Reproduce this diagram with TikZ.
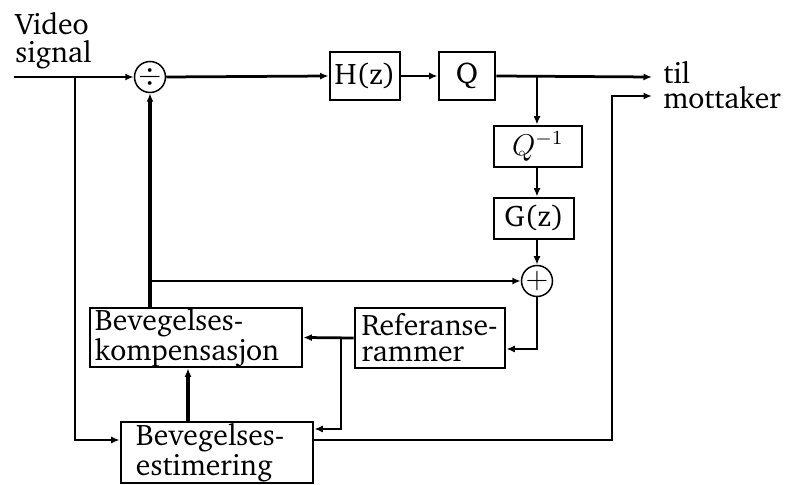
\documentclass[tikz,border=0pt]{standalone}
\usepackage[T1]{fontenc}
\usepackage{charter}
\usepackage{amsmath}
\usetikzlibrary{positioning,arrows.meta}

\begin{document}
\begin{tikzpicture}[x=0.4pt, y=-0.4pt, line width=1.1pt,
    >={Latex[length=3.4pt,width=2.8pt]},
    font=\fontsize{11.9}{9.2}\selectfont,
    blk/.style = {draw, rectangle, inner sep=0pt, align=center},
    txtblk/.style = {draw, rectangle, inner ysep=0pt, align=left},
    sum/.style = {draw, circle, line width=0.6pt, minimum size=12.4pt, inner sep=0pt},
    lbl/.style = {inner sep=0pt, align=left, anchor=north west},
    bus/.style = {line width=1.7pt}]
  \useasboundingbox (0,0) rectangle (788,485);

  % blocks
  \node[blk, minimum width=28pt, minimum height=19.2pt] (H) at (365,76) {H(z)};
  \node[blk, minimum width=22.4pt, minimum height=19.2pt] (Q) at (467,76) {Q};
  \node[blk, minimum width=35.2pt, minimum height=16.4pt] (Qinv) at (538,146.5) {$Q^{-1}$};
  \node[blk, minimum width=32pt, minimum height=16.4pt] (G) at (534,218.5) {G(z)};
  \node[txtblk, text width=80.8pt, inner xsep=2pt, minimum height=23.6pt] (komp) at (196,337.5)
    {Bevegelses-\\kompensasjon};
  \node[txtblk, text width=54.8pt, inner xsep=2.6pt, minimum height=24pt] (ref) at (430,338)
    {Referanse-\\[1.2pt]rammer};
  \node[txtblk, text width=64.8pt, inner xsep=6pt, minimum height=24.4pt] (est) at (217,452.5)
    {Bevegelses-\\estimering};
  \node[sum] (div) at (150,77) {$\div$};
  \node[sum] (plus) at (537,281) {$+$};

  % labels
  \node[lbl, font=\fontsize{11.9}{11.2}\selectfont] (video) at (14,11) {Video\\signal};
  \node[lbl, font=\fontsize{11.9}{8.6}\selectfont] (out) at (662,60) {til\\mottaker};

  \coordinate (in) at (14,77);
  \coordinate (split) at (75,77);
  \coordinate (qsplit) at (537,77);
  \coordinate (til) at (652,77);
  \coordinate (mot) at (652,96);
  \coordinate (kjoin) at (150,281);
  \coordinate (refsplit) at (341,338);

  % forward path
  \draw[->] (in) -- (div.west);
  \draw[->] (div.east) -- (H.west);
  \draw[->] (H.east) -- (Q.west);
  \draw[->] (Q.east) -- (til);
  \draw[->] (qsplit) -- (qsplit |- Qinv.north);
  \draw[->] (qsplit |- Qinv.south) -- (qsplit |- G.north);
  \draw[->] (qsplit |- G.south) -- (plus.north);

  % feedback
  \draw[bus,->] (div.south |- komp.north) -- (div.south);
  \draw[->] (kjoin) -- (plus.west);
  \draw[->] (plus.south) |- ([yshift=-4.4pt]ref.east);
  \draw[->] (ref.west) -- (komp.east);
  \draw[->] (refsplit) |- ([yshift=9.4pt]est.east);
  \draw[bus,->] ([xshift=-3.2pt]komp.south |- est.north) -- ([xshift=-3.2pt]komp.south);
  \draw[->] (split) |- ([yshift=5pt]est.west);
  \draw[->] ([yshift=5pt]est.east) -| ([xshift=-16pt]mot) -- (mot);
\end{tikzpicture}
\end{document}
